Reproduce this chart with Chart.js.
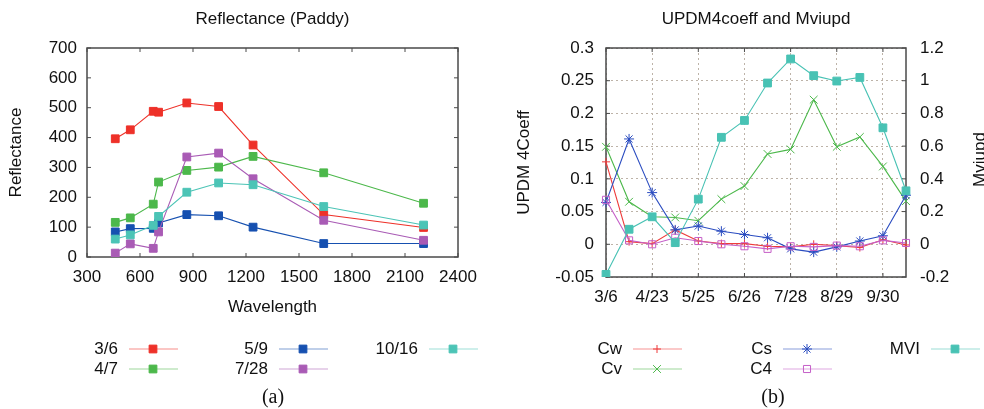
<!DOCTYPE html>
<html>
<head>
<meta charset="utf-8">
<title>Reflectance (Paddy) / UPDM4coeff and Mviupd</title>
<script src="https://cdn.jsdelivr.net/npm/chart.js@4/dist/chart.umd.min.js"></script>
<style>
	html, body { margin: 0; padding: 0; background: #fff; }
	#figure { position: relative; width: 984px; height: 409px; overflow: hidden; background: #fff; }
	#chart-reflectance { position: absolute; left: 0; top: 0; }
	#chart-updm { position: absolute; left: 490px; top: 0; }
</style>
</head>
<body>
<div id="figure">
	<canvas id="chart-reflectance" width="490" height="409"></canvas>
	<canvas id="chart-updm" width="494" height="409"></canvas>
</div>
<script>
//---------------------------------------------------------
// Data (a): reflectance of paddy per wavelength
//---------------------------------------------------------
const WAVELENGTHS = [460, 545, 675, 705, 865, 1045, 1240, 1640, 2205];
const REFL_LABELS = ["3/6", "4/7", "5/9", "7/28", "10/16"];
const REFL_0306 = [396, 426, 488, 485, 516, 504, 375, 142, 99];
const REFL_0407 = [116, 131, 177, 251, 290, 301, 337, 282, 180];
const REFL_0509 = [84, 95, 96, 114, 142, 138, 100, 45, 45];
const REFL_0728 = [13, 44, 29, 84, 335, 348, 262, 123, 56];
const REFL_1016 = [60, 74, 106, 136, 217, 248, 242, 169, 107];

//---------------------------------------------------------
// Data (b): UPDM coefficients and MVI per date
//---------------------------------------------------------
const DATES = ["3/6", "4/7", "4/23", "5/9", "5/25", "6/10", "6/26", "7/12", "7/28", "8/13", "8/29", "9/14", "9/30", "10/16"];
const DATE_TICKS = ["3/6", "4/23", "5/25", "6/26", "7/28", "8/29", "9/30"];
const CW = [0.126, 0.004, 0.001, 0.022, 0.005, 0.001, 0.001, -0.003, -0.004, 0.000, -0.002, -0.005, 0.007, -0.001];
const CV = [0.149, 0.065, 0.042, 0.041, 0.036, 0.069, 0.089, 0.138, 0.145, 0.221, 0.149, 0.164, 0.119, 0.066];
const CS = [0.064, 0.161, 0.079, 0.022, 0.028, 0.020, 0.015, 0.010, -0.007, -0.012, -0.004, 0.005, 0.013, 0.075];
const C4 = [0.068, 0.006, 0.000, 0.010, 0.005, 0.000, -0.003, -0.007, -0.003, -0.004, -0.002, -0.003, 0.006, 0.002];
const MVI = [-0.184, 0.092, 0.168, 0.010, 0.276, 0.654, 0.757, 0.986, 1.133, 1.031, 0.998, 1.020, 0.712, 0.327];

//---------------------------------------------------------
// Shared look
//---------------------------------------------------------
const FONT = "'Liberation Sans', Arial, sans-serif";
const INK = "#111";
const FRAME = "#4a4a4a";
const GRID = "#bdb3a8";

Chart.defaults.font.family = FONT;
Chart.defaults.font.size = 17;
Chart.defaults.color = INK;

const drawRotated = (ctx, text, x, y) => {
	ctx.save();
	ctx.translate(x, y);
	ctx.rotate(-Math.PI / 2);
	ctx.textAlign = "center";
	ctx.textBaseline = "alphabetic";
	ctx.fillText(text, 0, 0);
	ctx.restore();
};

// Box round the plot plus gnuplot-like inward tick marks
const framePlugin = {
	id: "frame",
	beforeDatasetsDraw(chart) {
		const { ctx, chartArea: a, scales } = chart;
		const vertical = Object.values(scales).filter((s) => !s.isHorizontal());
		ctx.save();
		ctx.strokeStyle = FRAME;
		ctx.lineWidth = 1;
		ctx.beginPath();
		Object.values(scales).forEach((scale) => {
			scale.ticks.forEach((tick, i) => {
				if (tick.label === "") return;
				const p = scale.getPixelForTick(i);
				if (scale.isHorizontal()) {
					ctx.moveTo(p, a.bottom);
					ctx.lineTo(p, a.bottom - 4);
					ctx.moveTo(p, a.top);
					ctx.lineTo(p, a.top + 4);
				} else {
					if (scale.position === "left" || vertical.length === 1) {
						ctx.moveTo(a.left, p);
						ctx.lineTo(a.left + 4, p);
					}
					if (scale.position === "right" || vertical.length === 1) {
						ctx.moveTo(a.right, p);
						ctx.lineTo(a.right - 4, p);
					}
				}
			});
		});
		ctx.stroke();
		ctx.lineWidth = 1.5;
		ctx.strokeRect(a.left, a.top, a.right - a.left, a.bottom - a.top);
		ctx.restore();
	},
};

// Titles, axis titles, key and caption
const figTextPlugin = {
	id: "figText",
	afterDraw(chart, args, opts) {
		const { ctx, chartArea: a } = chart;
		const midX = (a.left + a.right) / 2;
		const midY = (a.top + a.bottom) / 2;
		ctx.save();
		ctx.fillStyle = INK;
		ctx.font = "17px " + FONT;
		ctx.textAlign = "center";
		ctx.textBaseline = "middle";
		ctx.fillText(opts.title, midX, 19);
		if (opts.xTitle) ctx.fillText(opts.xTitle, midX, 307);
		if (opts.yTitle) drawRotated(ctx, opts.yTitle, opts.yTitleX, midY);
		if (opts.y2Title) drawRotated(ctx, opts.y2Title, opts.y2TitleX, midY - 3);

		// key: two rows, filled column by column
		const rows = [349, 369];
		chart.data.datasets.forEach((ds, i) => {
			const right = opts.keyX[Math.floor(i / 2)];
			const y = rows[i % 2];
			ctx.fillStyle = INK;
			ctx.textAlign = "right";
			ctx.textBaseline = "middle";
			ctx.fillText(ds.label, right, y);
			ctx.globalAlpha = 0.55;
			ctx.strokeStyle = ds.borderColor;
			ctx.lineWidth = 1.2;
			ctx.beginPath();
			ctx.moveTo(right + 11, y);
			ctx.lineTo(right + 60, y);
			ctx.stroke();
			ctx.globalAlpha = 1;
			ctx.fillStyle = ds.pointBackgroundColor;
			ctx.strokeStyle = ds.pointBorderColor;
			ctx.lineWidth = ds.pointBorderWidth;
			Chart.helpers.drawPoint(ctx, {
				pointStyle: ds.pointStyle,
				radius: ds.pointRadius,
				borderWidth: ds.pointBorderWidth,
				rotation: 0,
			}, right + 35, y);
		});

		ctx.fillStyle = INK;
		ctx.font = "20px 'Liberation Serif', 'Times New Roman', serif";
		ctx.textAlign = "center";
		ctx.textBaseline = "middle";
		ctx.fillText(opts.caption, opts.captionX, 398);
		ctx.restore();
	},
};

const lineSet = (label, values, color, style, extra) => ({
	label: label,
	data: values,
	borderColor: color,
	borderWidth: 1.1,
	pointStyle: style,
	pointRadius: 5.5,
	pointBorderWidth: 1,
	pointBackgroundColor: color,
	pointBorderColor: color,
	tension: 0,
	...extra,
});

//---------------------------------------------------------
// Chart (a)
//---------------------------------------------------------
const REFL_COLORS = ["#ee3129", "#4cb84b", "#1650b0", "#a95bb5", "#4cc4b6"];
const REFL_VALUES = [REFL_0306, REFL_0407, REFL_0509, REFL_0728, REFL_1016];

const REFL_CONFIG = {
	type: "line",
	data: {
		datasets: REFL_LABELS.map((label, i) =>
			lineSet(label, WAVELENGTHS.map((w, j) => ({ x: w, y: REFL_VALUES[i][j] })), REFL_COLORS[i], "rect", { order: -i })
		),
	},
	options: {
		responsive: false,
		animation: false,
		events: [],
		layout: { padding: { left: 0, top: 48, right: 32, bottom: 0 } },
		scales: {
			x: {
				type: "linear",
				min: 300,
				max: 2400,
				afterFit: (scale) => { scale.height = 152; },
				grid: { display: false, drawTicks: false },
				border: { display: false },
				ticks: { stepSize: 300, padding: 10, maxRotation: 0, callback: (value) => String(value) },
			},
			y: {
				min: 0,
				max: 700,
				afterFit: (scale) => { scale.width = 87; },
				grid: { display: false, drawTicks: false },
				border: { display: false },
				ticks: { stepSize: 100, padding: 10 },
			},
		},
		plugins: {
			legend: { display: false },
			tooltip: { enabled: false },
			figText: {
				title: "Reflectance (Paddy)",
				xTitle: "Wavelength",
				yTitle: "Reflectance",
				yTitleX: 20.5,
				keyX: [118, 268, 418],
				caption: "(a)",
				captionX: 273,
			},
		},
	},
	plugins: [framePlugin, figTextPlugin],
};

//---------------------------------------------------------
// Chart (b)
//---------------------------------------------------------
const fmt = (digits) => (value) => String(Number(value.toFixed(digits)));

const UPDM_CONFIG = {
	type: "line",
	data: {
		labels: DATES,
		datasets: [
			lineSet("Cw", CW, "#ee3b3b", "cross", { pointRadius: 4, order: 0 }),
			lineSet("Cv", CV, "#4cb84b", "crossRot", { pointRadius: 5.5, order: -1 }),
			lineSet("Cs", CS, "#2a4cc0", "star", { pointRadius: 5, order: -2 }),
			lineSet("C4", C4, "#c55fc8", "rect", { pointRadius: 5, pointBackgroundColor: "rgba(255,255,255,0)", order: -3 }),
			lineSet("MVI", MVI, "#48c2b4", "rect", { yAxisID: "y1", order: -4 }),
		],
	},
	options: {
		responsive: false,
		animation: false,
		events: [],
		layout: { padding: { left: 0, top: 48, right: 0, bottom: 0 } },
		scales: {
			x: {
				type: "category",
				afterFit: (scale) => { scale.height = 132; },
				grid: {
					drawTicks: false,
					color: (ctx) => (DATE_TICKS.includes(DATES[ctx.index]) ? GRID : "rgba(0,0,0,0)"),
				},
				border: { display: false, dash: [2, 3] },
				ticks: {
					autoSkip: false,
					maxRotation: 0,
					padding: 10,
					callback: (value, i) => (DATE_TICKS.includes(DATES[i]) ? DATES[i] : ""),
				},
			},
			y: {
				position: "left",
				min: -0.05,
				max: 0.3,
				afterFit: (scale) => { scale.width = 116; },
				grid: { color: GRID, drawTicks: false },
				border: { display: false, dash: [2, 3] },
				ticks: { stepSize: 0.05, padding: 12, callback: fmt(2) },
			},
			y1: {
				position: "right",
				min: -0.2,
				max: 1.2,
				afterFit: (scale) => { scale.width = 78; },
				grid: { display: false, drawTicks: false },
				border: { display: false },
				ticks: { stepSize: 0.2, padding: 14, callback: fmt(1) },
			},
		},
		plugins: {
			legend: { display: false },
			tooltip: { enabled: false },
			figText: {
				title: "UPDM4coeff and Mviupd",
				yTitle: "UPDM 4Coeff",
				yTitleX: 39,
				y2Title: "Mviupd",
				y2TitleX: 495,
				keyX: [132, 282, 430],
				caption: "(b)",
				captionX: 283,
			},
		},
	},
	plugins: [framePlugin, figTextPlugin],
};

new Chart(document.getElementById("chart-reflectance"), REFL_CONFIG);
new Chart(document.getElementById("chart-updm"), UPDM_CONFIG);
</script>
</body>
</html>
